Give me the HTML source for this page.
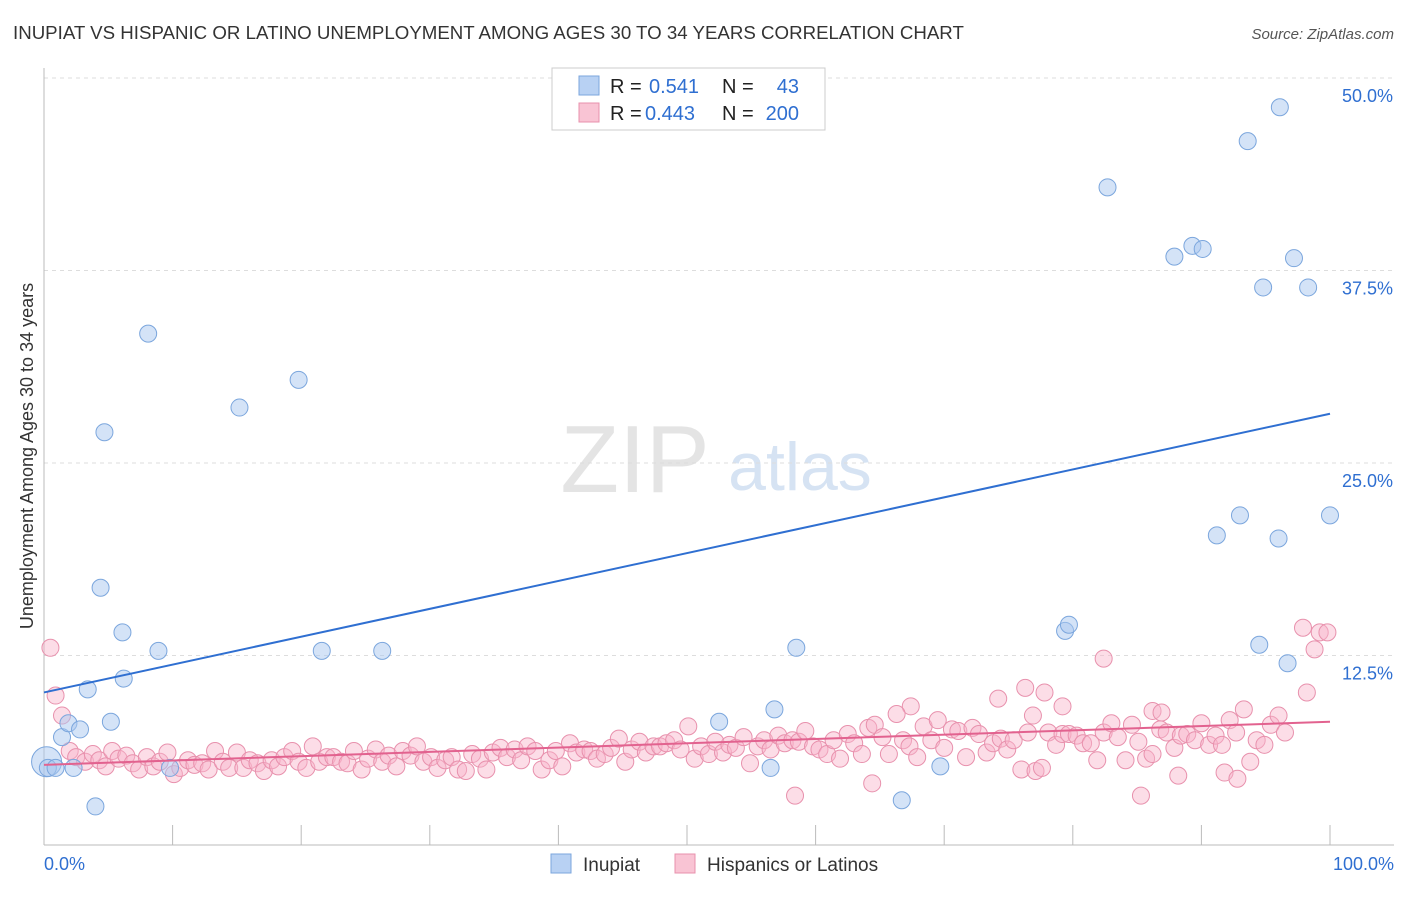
<!DOCTYPE html>
<html><head><meta charset="utf-8"><style>
body{margin:0;background:#fff;font-family:"Liberation Sans",sans-serif;}
svg text{font-family:"Liberation Sans",sans-serif;}
</style></head><body>
<svg id="chart" width="1406" height="892">
<text x="13" y="39" font-size="18.7" fill="#333">INUPIAT VS HISPANIC OR LATINO UNEMPLOYMENT AMONG AGES 30 TO 34 YEARS CORRELATION CHART</text>
<text x="1394" y="39" font-size="15" fill="#555" font-style="italic" text-anchor="end">Source: ZipAtlas.com</text>
<text x="635" y="492" font-size="96" fill="#e4e4e4" font-family="Liberation Serif" text-anchor="middle">ZIP</text>
<text x="800" y="490" font-size="68" fill="#d6e3f3" text-anchor="middle">atlas</text>
<text transform="translate(33,456) rotate(-90)" font-size="18" fill="#333" text-anchor="middle">Unemployment Among Ages 30 to 34 years</text>
<g id="grid"></g><g id="marks"></g>
<g>
<rect x="552" y="68" width="273" height="62" fill="#fff" stroke="#ccc"/>
<rect x="579" y="76" width="20" height="19" fill="#b8d1f3" stroke="#7ba6dd"/>
<rect x="579" y="103" width="20" height="19" fill="#f9c4d4" stroke="#e891ad"/>
<text x="610" y="93" font-size="20" fill="#222">R = </text><text x="649" y="93" font-size="20" fill="#2f6fd1">0.541</text>
<text x="722" y="93" font-size="20" fill="#222">N =</text><text x="799" y="93" font-size="20" fill="#2f6fd1" text-anchor="end">43</text>
<text x="610" y="120" font-size="20" fill="#222">R = </text><text x="645" y="120" font-size="20" fill="#2f6fd1">0.443</text>
<text x="722" y="120" font-size="20" fill="#222">N =</text><text x="799" y="120" font-size="20" fill="#2f6fd1" text-anchor="end">200</text>
</g>
<g>
<rect x="551" y="854" width="20" height="19" fill="#b8d1f3" stroke="#7ba6dd"/>
<text x="583" y="871" font-size="19" fill="#333">Inupiat</text>
<rect x="675" y="854" width="20" height="19" fill="#f9c4d4" stroke="#e891ad"/>
<text x="707" y="871" font-size="19" fill="#333">Hispanics or Latinos</text>
</g>
</svg>
<script>
const yTicks=[12.5,25,37.5,50];
const yTickLabels=["12.5%","25.0%","37.5%","50.0%"];
const xTickLabels=["0.0%","100.0%"];
const blueX=[0.3,0.9,2.3,1.4,1.9,2.8,4.0,3.4,5.2,4.4,6.1,6.2,4.7,8.1,8.9,9.8,15.2,19.8,21.6,26.3,52.5,56.5,56.8,58.5,66.7,69.7,79.4,79.7,82.7,87.9,89.3,90.1,91.2,93.0,93.6,94.5,94.8,96.0,96.1,96.7,97.2,98.3,100];
const blueY=[5.2,5.2,5.2,7.2,8.1,7.7,2.7,10.3,8.2,16.9,14.0,11.0,27.0,33.4,12.8,5.2,28.6,30.4,12.8,12.8,8.2,5.2,9.0,13.0,3.1,5.3,14.1,14.5,42.9,38.4,39.1,38.9,20.3,21.6,45.9,13.2,36.4,20.1,48.1,12.0,38.3,36.4,21.6];
const pinkPairs=[[0.5,13.0],[0.9,9.9],[1.4,8.6],[82.4,12.3],[97.9,14.3],[99.2,14.0],[99.8,14.0],[98.8,12.9],[98.2,10.1],[58.4,3.4],[64.4,4.2],[85.3,3.4],[88.2,4.7],[91.8,4.9],[92.8,4.5],[76.3,10.4],[77.8,10.1],[74.2,9.7],[67.4,9.2],[79.2,9.2],[76.9,8.6],[86.2,8.9],[86.9,8.8],
[2,6.3],[2.5,5.9],[3.2,5.6],[3.8,6.1],[4.3,5.7],[4.8,5.3],[5.3,6.3],[5.8,5.8],[6.4,6.0],[6.9,5.5],[7.4,5.1],[8.0,5.9],[8.5,5.3],[9.0,5.6],[9.6,6.2],[10.1,4.8],[10.6,5.2],[11.2,5.7],[11.7,5.4],[12.3,5.5],[12.8,5.1],[13.3,6.3],[13.9,5.6],[14.4,5.2],[15.0,6.2],[15.5,5.2],[16.0,5.7],[16.6,5.5],[17.1,5.0],[17.7,5.7],[18.2,5.3],[18.7,5.9],[19.3,6.3],[19.8,5.6],[20.4,5.2],[20.9,6.6],[21.4,5.6],[22.0,5.9],[22.5,5.9],[23.1,5.6],[23.6,5.5],[24.1,6.3],[24.7,5.1],[25.2,5.8],[25.8,6.4],[26.3,5.6],[26.8,6.0],[27.4,5.3],[27.9,6.3],[28.5,6.0],[29.0,6.6],[29.5,5.6],[30.1,5.9],[30.6,5.2],[31.2,5.7],[31.7,5.9],[32.2,5.1],[32.8,5.0],[33.3,6.1],[33.9,5.8],[34.4,5.1],[34.9,6.2],[35.5,6.5],[36.0,5.9],[36.6,6.4],[37.1,5.7],[37.6,6.6],[38.2,6.3],[38.7,5.1],[39.3,5.7],[39.8,6.3],[40.3,5.3],[40.9,6.8],[41.4,6.2],[42.0,6.4],[42.5,6.3],[43.0,5.8],[43.6,6.1],[44.1,6.5],[44.7,7.1],[45.2,5.6],[45.7,6.4],[46.3,6.9],[46.8,6.2],[47.4,6.6],[47.9,6.6],[48.4,6.8],[49.0,7.0],[49.5,6.4],[50.1,7.9],[50.6,5.8],[51.1,6.6],[51.7,6.1],[52.2,6.9],[52.8,6.2],[53.3,6.7],[53.8,6.5],[54.4,7.2],[54.9,5.5],[55.5,6.6],[56.0,7.0],[56.5,6.4],[57.1,7.3],[57.6,6.8],[58.2,7.0],[58.7,6.9],[59.2,7.6],[59.8,6.6],[60.3,6.4],[60.9,6.1],[61.4,7.0],[61.9,5.8],[62.5,7.4],[63.0,6.8],[63.6,6.1],[64.1,7.8],[64.6,8.0],[65.2,7.2],[65.7,6.1],[66.3,8.7],[66.8,7.0],[67.3,6.6],[67.9,5.9],[68.4,7.9],[69.0,7.0],[69.5,8.3],[70.0,6.5],[70.6,7.7],[71.1,7.6],[71.7,5.9],[72.2,7.8],[72.7,7.4],[73.3,6.2],[73.8,6.8],[74.4,7.1],[74.9,6.4],[75.4,7.0],[76.0,5.1],[76.5,7.5],[77.1,5.0],[77.6,5.2],[78.1,7.5],[78.7,6.7],[79.2,7.4],[79.7,7.4],[80.3,7.3],[80.8,6.8],[81.4,6.8],[81.9,5.7],[82.4,7.5],[83.0,8.1],[83.5,7.2],[84.1,5.7],[84.6,8.0],[85.1,6.9],[85.7,5.8],[86.2,6.1],[86.8,7.7],[87.3,7.5],[87.9,6.5],[88.4,7.3],[88.9,7.4],[89.5,7.0],[90.0,8.1],[90.6,6.7],[91.1,7.3],[91.6,6.7],[92.2,8.3],[92.7,7.5],[93.3,9.0],[93.8,5.6],[94.3,7.0],[94.9,6.7],[95.4,8.0],[96.0,8.6],[96.5,7.5]];
const blueTrend=[10.1,28.2];
const pinkTrend=[5.4,8.2];
const NS="http://www.w3.org/2000/svg";
const X=v=>44+v*12.86, Y=v=>848-v*15.4;
function mk(tag,attrs,parent){const e=document.createElementNS(NS,tag);for(const k in attrs)e.setAttribute(k,attrs[k]);parent.appendChild(e);return e;}
const grid=document.getElementById('grid'),marks=document.getElementById('marks');
yTicks.forEach((t,i)=>{
 const l=mk('line',{x1:44,x2:1394,y1:Y(t),y2:Y(t),stroke:'#ddd','stroke-dasharray':'4,4'},grid);
 
 
 const tx=mk('text',{x:1393,y:Y(t)+24,'font-size':18,fill:'#2f6fd1','text-anchor':'end'},grid);tx.textContent=yTickLabels[i];
 
 
});
const ax=mk('line',{x1:44,x2:1394,y1:845,y2:845,stroke:'#bbb'},grid);


const ay=mk('line',{x1:44,x2:44,y1:68,y2:845,stroke:'#bbb'},grid);


for(let i=1;i<=10;i++){const t=mk('line',{x1:X(i*10),x2:X(i*10),y1:825,y2:845,stroke:'#bbb'},grid);
 
 }
[[0,'start',44],[100,'end',1394]].forEach((d,i)=>{const t=mk('text',{x:d[2],y:870,'font-size':18,fill:'#2f6fd1','text-anchor':d[1]},grid);t.textContent=xTickLabels[i];
 
 });
pinkPairs.forEach(p=>{const c=mk('circle',{cx:X(p[0]),cy:Y(p[1]),r:8.5,fill:'rgba(249,180,202,0.45)',stroke:'#e891ad','stroke-width':1},marks);
 
 });
const big=mk('circle',{cx:X(0.2),cy:Y(5.6),r:15,fill:'rgba(169,200,240,0.5)',stroke:'#7ba6dd'},marks);


blueX.forEach((x,i)=>{const c=mk('circle',{cx:X(x),cy:Y(blueY[i]),r:8.5,fill:'rgba(169,200,240,0.5)',stroke:'#7ba6dd','stroke-width':1},marks);
 
 });
const pl=mk('line',{x1:X(0),x2:X(100),y1:Y(pinkTrend[0]),y2:Y(pinkTrend[1]),stroke:'#e2628f','stroke-width':2},marks);


const bl=mk('line',{x1:X(0),x2:X(100),y1:Y(blueTrend[0]),y2:Y(blueTrend[1]),stroke:'#2f6fd1','stroke-width':2},marks);


</script>
</body></html>
